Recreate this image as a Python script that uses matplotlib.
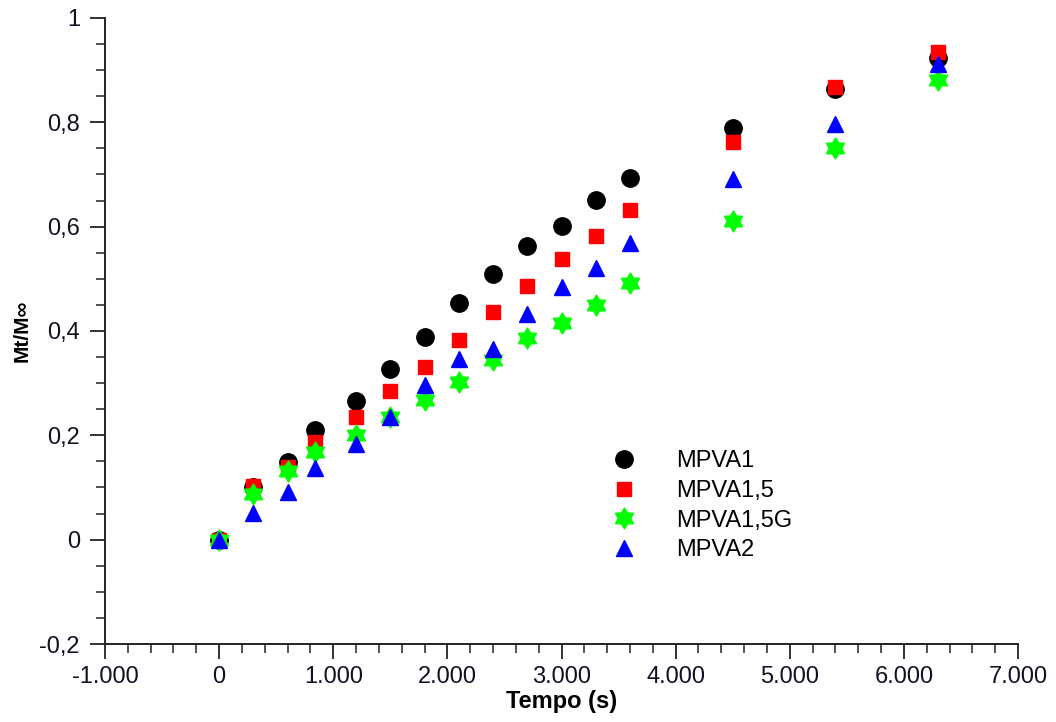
import matplotlib
matplotlib.use('Agg')
import numpy as np
import matplotlib.pyplot as plt
from matplotlib.path import Path
from matplotlib.ticker import MultipleLocator, FuncFormatter

plt.rcParams['font.family'] = ['Liberation Sans', 'DejaVu Sans']

tempo = [0, 300, 600, 840, 1200, 1500, 1800, 2100, 2400, 2700, 3000, 3300, 3600, 4500, 5400, 6300]
mpva1 = [0, 0.10, 0.148, 0.21, 0.265, 0.327, 0.388, 0.454, 0.51, 0.562, 0.602, 0.652, 0.694, 0.79, 0.863, 0.923]
mpva15 = [0, 0.102, 0.14, 0.187, 0.235, 0.285, 0.331, 0.383, 0.437, 0.487, 0.538, 0.583, 0.631, 0.762, 0.867, 0.935]
mpva15g = [0, 0.087, 0.131, 0.169, 0.2, 0.235, 0.267, 0.302, 0.344, 0.387, 0.415, 0.45, 0.492, 0.61, 0.75, 0.881]
mpva2 = [0, 0.052, 0.092, 0.137, 0.183, 0.235, 0.296, 0.346, 0.365, 0.433, 0.485, 0.521, 0.569, 0.692, 0.796, 0.912]

# six-pointed star marker (fat hexagram)
ang = np.pi / 2 + np.arange(12) * np.pi / 6
rad = np.where(np.arange(12) % 2 == 0, 1.0, 0.6)
verts = np.column_stack([rad * np.cos(ang), rad * np.sin(ang)])
star6 = Path(np.vstack([verts, verts[:1]]), closed=True)

fig = plt.figure(figsize=(10.56, 7.22), dpi=100)
ax = fig.add_axes([105 / 1056, 78 / 722, 913 / 1056, 626 / 722])

ax.plot(tempo, mpva1, 'o', color='black', markersize=12.5, label='MPVA1', linestyle='none')
ax.plot(tempo, mpva15, 's', color='#ff0000', markersize=10.5, label='MPVA1,5', linestyle='none')
ax.plot(tempo, mpva15g, marker=star6, color='#00ff00', markersize=15, label='MPVA1,5G', linestyle='none')
ax.plot(tempo, mpva2, '^', color='#0000ff', markersize=11.5, label='MPVA2', linestyle='none')

ax.set_xlim(-1000, 7000)
ax.set_ylim(-0.2, 1.0)

ax.xaxis.set_major_locator(MultipleLocator(1000))
ax.xaxis.set_minor_locator(MultipleLocator(200))
ax.yaxis.set_major_locator(MultipleLocator(0.2))
ax.yaxis.set_minor_locator(MultipleLocator(0.05))

def fmt_x(v, pos):
    return f'{int(round(v)):,}'.replace(',', '.')

def fmt_y(v, pos):
    v = round(v, 2)
    if abs(v) < 1e-9:
        return '0'
    if abs(v - 1) < 1e-9:
        return '1'
    return f'{v:g}'.replace('.', ',')

ax.xaxis.set_major_formatter(FuncFormatter(fmt_x))
ax.yaxis.set_major_formatter(FuncFormatter(fmt_y))

ax.spines['top'].set_visible(False)
ax.spines['right'].set_visible(False)
for s in ['left', 'bottom']:
    ax.spines[s].set_linewidth(1.4)
    ax.spines[s].set_color('#222222')
ax.tick_params(which='major', direction='out', length=11, width=1.3, color='#222222',
               labelsize=17, labelcolor='#111122')
ax.tick_params(axis='x', which='major', pad=5)
ax.tick_params(axis='y', which='major', pad=7)
ax.tick_params(which='minor', direction='out', length=6.5, width=1.1, color='#222222')

ax.set_xlabel('Tempo (s)', fontsize=17, fontweight='bold', labelpad=1)
ax.set_ylabel('Mt/M∞', fontsize=15, fontweight='bold', labelpad=6)

ax.legend(loc='upper left', bbox_to_anchor=(0.532, 0.325), frameon=False,
          fontsize=17, handletextpad=1.2, labelspacing=0.33, borderaxespad=0)

fig.savefig('out.png', dpi=100)
